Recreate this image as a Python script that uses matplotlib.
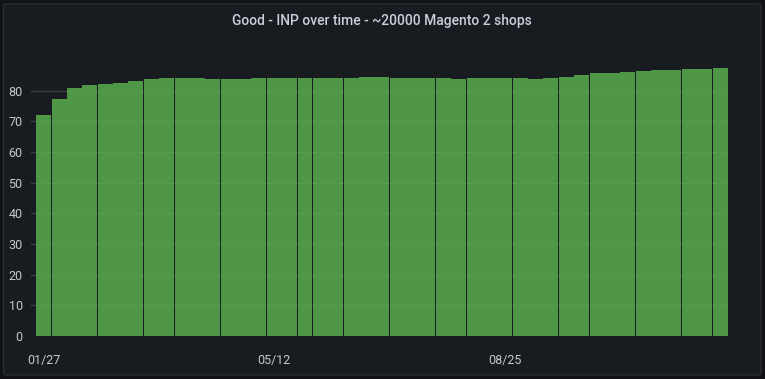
import matplotlib
matplotlib.use("Agg")
import matplotlib.pyplot as plt
import matplotlib.dates as mdates
from matplotlib.patches import FancyBboxPatch
import pandas as pd

title = "Good - INP over time - ~20000 Magento 2 shops"
start_week = "2025-01-27"
good_pct = [72.0, 77.3, 80.9, 81.8, 82.2, 82.5, 83.1, 83.8, 84.1, 84.1,
            84.1, 83.8, 83.8, 83.8, 84.1, 84.0, 84.1, 84.1, 84.1, 84.0,
            84.1, 84.4, 84.4, 84.1, 84.1, 84.1, 84.1, 83.8, 84.1, 84.1,
            84.1, 84.1, 83.8, 84.1, 84.4, 85.1, 85.8, 85.8, 86.1, 86.4,
            86.7, 86.7, 87.1, 87.1, 87.4]
x_ticks = ["2025-01-27", "2025-05-12", "2025-08-25"]
y_ticks = [0, 10, 20, 30, 40, 50, 60, 70, 80]

weeks = pd.date_range(start_week, periods=len(good_pct), freq="W-MON")

W, H = 765, 379
fig = plt.figure(figsize=(W / 100, H / 100), dpi=100)
fig.patch.set_facecolor("#111217")

# panel
panel = FancyBboxPatch((3.5 / W, 4 / H), (761 - 3.5) / W, (375 - 4) / H,
                       boxstyle="round,pad=0,rounding_size=0.004",
                       transform=fig.transFigure, facecolor="#181b1f",
                       edgecolor="#2a2d33", linewidth=1.0, zorder=-5)
fig.patches.append(panel)

fig.text(382 / W, 1 - 21 / H, title, ha="center", va="center",
         color="#ccccdc", fontsize=10, family=["Roboto", "DejaVu Sans"],
         fontweight="medium")

left_px, right_px, bot_px, top_px = 31, 727.7, 336, 58
ax = fig.add_axes([left_px / W, (H - bot_px) / H,
                   (right_px - left_px) / W, (bot_px - top_px) / H])
ax.set_facecolor("none")
ax.set_zorder(2)

x = mdates.date2num(weeks)
week_w = 7.0
ax.bar(x, good_pct, width=week_w * 0.975, color="#56A64B", alpha=0.9,
       linewidth=0, zorder=2, snap=True)

x0 = x[0] - week_w / 2 - week_w * (36 - 31) / 15.37
ax.set_xlim(x0, x[-1] + week_w / 2)
ax.set_ylim(0, (bot_px - top_px) / ((336 - 90.7) / 80))

for s in ax.spines.values():
    s.set_visible(False)

ax.set_yticks(y_ticks)
ax.set_yticklabels([str(v) for v in y_ticks])
ax.set_xticks(mdates.date2num(pd.to_datetime(x_ticks)))
ax.set_xticklabels([pd.Timestamp(d).strftime("%m/%d") for d in x_ticks])
ax.tick_params(axis="both", length=0, colors="#ccccdc", labelsize=9)
ax.tick_params(axis="y", pad=6)
ax.tick_params(axis="x", pad=13)
for lab in ax.get_xticklabels() + ax.get_yticklabels():
    lab.set_family(["Roboto", "DejaVu Sans"])
    lab.set_color("#c7c8d0")

ax.set_axisbelow(True)
ax.yaxis.grid(True, color="#3a3d44", linewidth=1)
ax.xaxis.grid(False)

fig.savefig("out.png", dpi=100, facecolor=fig.get_facecolor())
